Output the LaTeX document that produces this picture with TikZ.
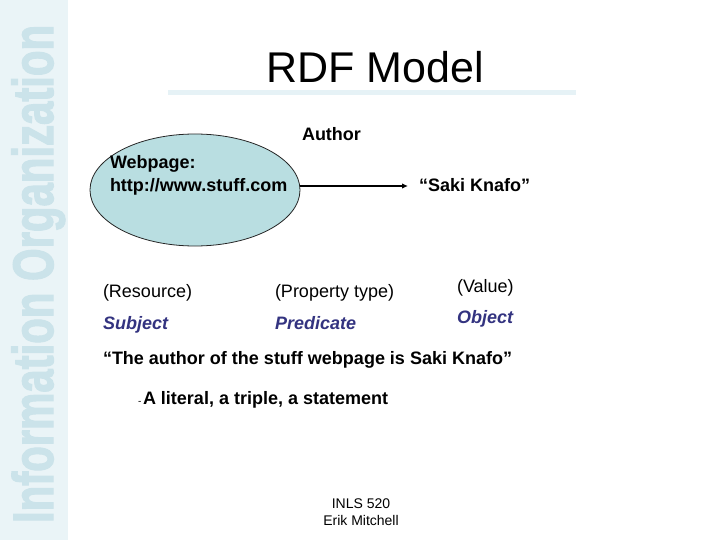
\documentclass[tikz,border=0pt]{standalone}
\usepackage{fontspec}
\setmainfont{Liberation Sans}
\newfontfamily\sidefont[FakeBold=2.5]{Liberation Sans Bold}
\usetikzlibrary{arrows.meta,shapes.geometric}
\definecolor{sidebg}{RGB}{234,244,247}
\definecolor{sidetxt}{RGB}{203,227,234}
\definecolor{rule}{RGB}{230,242,246}
\definecolor{ellfill}{RGB}{185,222,225}
\definecolor{roleblue}{RGB}{51,51,128}
\tikzset{
  txt/.style={inner sep=0pt, outer sep=0pt, anchor=base west},
  bodytxt/.style={txt, font=\fontsize{18}{21}\selectfont\bfseries},
  plaintxt/.style={txt, font=\fontsize{18}{21}\selectfont},
  roletxt/.style={txt, font=\fontsize{18}{21}\selectfont\bfseries\itshape, text=roleblue},
  foottxt/.style={inner sep=0pt, anchor=base, font=\fontsize{14}{16}\selectfont}
}
\begin{document}
\begin{tikzpicture}[x=1pt,y=-1pt]
\useasboundingbox (0,0) rectangle (720,540);
\fill[white] (0,0) rectangle (720,540);
% sidebar
\fill[sidebg] (0,0) rectangle (68,540);
\node[txt, rotate=90, text=sidetxt, font=\fontsize{57}{60}\selectfont\sidefont] (side) at (53,523)
  {\scalebox{0.735}[1]{Information Organization}};
% title
\node[inner sep=0pt, anchor=base, font=\fontsize{43}{50}\selectfont] (title) at (375,83) {RDF Model};
\fill[rule] (168,90) rectangle (576,95);
% ellipse
\node[draw=black!85, line width=0.8pt, fill=ellfill, ellipse, minimum width=210pt, minimum height=112pt, inner sep=0pt] (res) at (195,190) {};
\node[bodytxt] (web1) at (110,169) {Webpage:};
\node[bodytxt] (web2) at (110,192) {http://www.stuff.com};
% predicate label and object
\node[bodytxt] (author) at (302,141) {Author};
\coordinate (objin) at (408,186);
\node[bodytxt] (obj) at (419,192) {“Saki Knafo”};
\draw[line width=1.8pt, -{Latex[length=6pt,width=5.5pt]}] (res.east |- objin) -- (objin);
% roles
\node[plaintxt] (resource) at (103,297) {(Resource)};
\node[plaintxt] (ptype) at (275,297) {(Property type)};
\node[plaintxt] (value) at (457,292) {(Value)};
\node[roletxt] (subject) at (103,329) {Subject};
\node[roletxt] (predicate) at (275,329) {Predicate};
\node[roletxt] (object) at (457,323) {Object};
% sentence
\node[bodytxt] (sentence) at (103,364) {“The author of the stuff webpage is Saki Knafo”};
\node[txt, font=\fontsize{10}{11}\selectfont] (dash) at (138,404) {-};
\node[bodytxt] (literal) at (143,404) {A literal, a triple, a statement};
% footer
\node[foottxt] (f1) at (361,508) {INLS 520};
\node[foottxt] (f2) at (361,525) {Erik Mitchell};
\end{tikzpicture}
\end{document}
